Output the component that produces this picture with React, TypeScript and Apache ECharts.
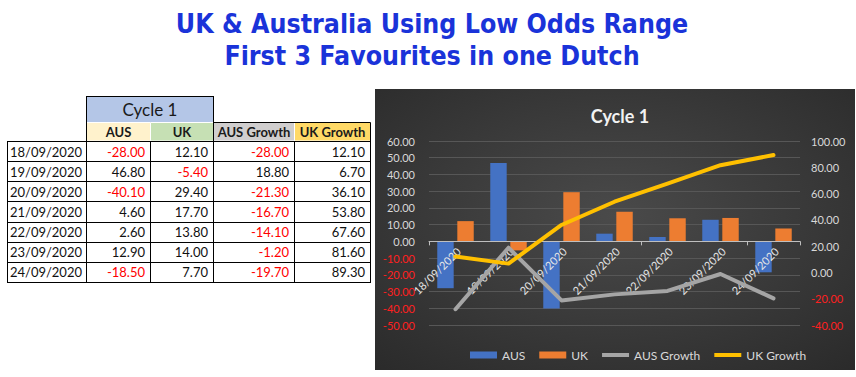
import React, { useEffect, useRef } from "react";
import * as echarts from "echarts";

const dates = ["18/09/2020", "19/09/2020", "20/09/2020", "21/09/2020", "22/09/2020", "23/09/2020", "24/09/2020"];
const ausValues = [-28.0, 46.8, -40.1, 4.6, 2.6, 12.9, -18.5];
const ukValues = [12.1, -5.4, 29.4, 17.7, 13.8, 14.0, 7.7];
const ausGrowth = [-28.0, 18.8, -21.3, -16.7, -14.1, -1.2, -19.7];
const ukGrowth = [12.1, 6.7, 36.1, 53.8, 67.6, 81.6, 89.3];
const headers = ["AUS", "UK", "AUS Growth", "UK Growth"];
const headerFills = ["#fff2cc", "#c6e0b4", "#d0cece", "#ffd966"];
const titleLines = ["UK & Australia Using Low Odds Range", "First 3 Favourites in one Dutch"];
const tableTitle = "Cycle 1";
const chartTitle = "Cycle 1";

const FONT = "Lato, 'Open Sans', sans-serif";
const LINE_ICON = "path://M0 0H27V4H0Z";

function buildTable(): any[] {
  const els: any[] = [];
  const cols = [7, 86, 150, 213, 294, 370];
  const rowTop = 141;
  const rowH = 20.14;
  const nRows = dates.length;
  const bottom = rowTop + rowH * nRows;
  const black = "#000";
  els.push({
    type: "rect",
    shape: { x: 86.5, y: 96.5, width: 127, height: 26 },
    style: { fill: "#b4c6e7", stroke: black, lineWidth: 1 },
  });
  els.push({
    type: "text",
    style: {
      text: tableTitle, x: 150, y: 109.5, fill: "#1a1a1a",
      font: `17px ${FONT}`, align: "center", verticalAlign: "middle",
      textAlign: "center", textVerticalAlign: "middle",
    },
  });
  headers.forEach((h, i) => {
    const x0 = cols[i + 1];
    const x1 = cols[i + 2];
    els.push({
      type: "rect",
      shape: { x: x0 + 0.5, y: 122.5, width: x1 - x0, height: 18.5 },
      style: { fill: headerFills[i], stroke: "#ffffff", lineWidth: 1 },
    });
    els.push({
      type: "text",
      style: {
        text: h, x: (x0 + x1) / 2 + 0.5, y: 132, fill: "#1a1a1a",
        font: `bold 13px ${FONT}`, align: "center", verticalAlign: "middle",
        textAlign: "center", textVerticalAlign: "middle",
      },
    });
  });
  const line = (x1: number, y1: number, x2: number, y2: number) =>
    els.push({ type: "line", shape: { x1, y1, x2, y2 }, style: { stroke: black, lineWidth: 1 } });
  line(213.5, 122.5, 370.5, 122.5);
  line(370.5, 122.5, 370.5, rowTop);
  line(86.5, 96, 86.5, rowTop);
  line(213.5, 96, 213.5, rowTop);
  for (let r = 0; r <= nRows; r++) {
    const y = Math.round(rowTop + r * rowH) + 0.5;
    line(7, y, 371, y);
  }
  cols.forEach((c) => line(c + 0.5, rowTop, c + 0.5, Math.round(bottom) + 1));
  const cellsOf = (r: number) => [ausValues[r], ukValues[r], ausGrowth[r], ukGrowth[r]];
  dates.forEach((d, r) => {
    const yc = rowTop + r * rowH + rowH / 2 + 0.5;
    els.push({
      type: "text",
      style: {
        text: d, x: cols[1] - 4, y: yc, fill: "#111",
        font: `13px ${FONT}`, align: "right", verticalAlign: "middle",
        textAlign: "right", textVerticalAlign: "middle",
      },
    });
    cellsOf(r).forEach((v, ci) => {
      els.push({
        type: "text",
        style: {
          text: v.toFixed(2), x: cols[ci + 2] - 5, y: yc, fill: v < 0 ? "#ff0000" : "#111",
          font: `13px ${FONT}`, align: "right", verticalAlign: "middle",
          textAlign: "right", textVerticalAlign: "middle",
        },
      });
    });
  });
  return els;
}

function buildOption(): any {
  const labelColor = (v: any) => (Number(v) < 0 ? "#ff2020" : "#d9d9d9");
  const graphics: any[] = [
    {
      type: "rect",
      z: -10,
      shape: { x: 375, y: 89, width: 480, height: 281 },
      style: {
        fill: {
          type: "radial", x: 0.5, y: 0.45, r: 0.75,
          colorStops: [
            { offset: 0, color: "#4a4a4a" },
            { offset: 1, color: "#2a2a2a" },
          ],
        },
      },
    },
    ...titleLines.map((t, i) => ({
      type: "text",
      style: {
        text: t, x: 432, y: 23 + i * 32, fill: "#1a33d9",
        font: `bold 26.5px 'DejaVu Sans Condensed', 'DejaVu Sans', sans-serif`,
        align: "center", verticalAlign: "middle",
        textAlign: "center", textVerticalAlign: "middle",
      },
    })),
    ...buildTable(),
  ];
  return {
    animation: false,
    backgroundColor: "#ffffff",
    title: {
      text: chartTitle,
      left: 615,
      top: 102,
      textAlign: "center",
      textStyle: { color: "#f2f2f2", fontSize: 18, fontWeight: "bold", fontFamily: FONT },
    },
    legend: {
      left: 465,
      top: 344,
      itemWidth: 27,
      itemHeight: 7,
      itemGap: 14,
      textStyle: { color: "#d9d9d9", fontSize: 12, fontFamily: FONT },
      data: [
        { name: "AUS", icon: "rect" },
        { name: "UK", icon: "rect" },
        { name: "AUS Growth", icon: LINE_ICON, itemStyle: { color: "#a5a5a5" } },
        { name: "UK Growth", icon: LINE_ICON, itemStyle: { color: "#ffc000" } },
      ],
    },
    grid: { left: 429, right: 56, top: 141, bottom: 52 },
    xAxis: {
      type: "category",
      data: dates,
      z: 3,
      axisLine: { onZero: true, onZeroAxisIndex: 0, lineStyle: { color: "#bfbfbf", width: 1 } },
      axisTick: { show: true, length: 4, lineStyle: { color: "#bfbfbf" } },
      axisLabel: { show: false },
      splitLine: { show: false },
    },
    yAxis: [
      {
        type: "value",
        min: -50,
        max: 60,
        interval: 10,
        axisLine: { show: false },
        axisTick: { show: false },
        axisLabel: {
          color: labelColor,
          fontSize: 11,
          fontFamily: FONT,
          margin: 14,
          formatter: (v: number) => v.toFixed(2),
        },
        splitLine: { lineStyle: { color: "#575757", width: 1 } },
      },
      {
        type: "value",
        min: -40,
        max: 100,
        interval: 20,
        position: "right",
        axisLine: { show: false },
        axisTick: { show: false },
        axisLabel: {
          color: labelColor,
          fontSize: 11,
          fontFamily: FONT,
          margin: 11,
          formatter: (v: number) => v.toFixed(2),
        },
        splitLine: { show: false },
      },
    ],
    series: [
      {
        name: "AUS",
        type: "bar",
        data: ausValues,
        z: 1,
        barWidth: "31%",
        barGap: "22%",
        itemStyle: { color: "#4472c4" },
      },
      {
        name: "UK",
        type: "bar",
        data: ukValues,
        z: 1,
        barWidth: "31%",
        barGap: "22%",
        itemStyle: { color: "#ed7d31" },
      },
      {
        name: "dateLabels",
        type: "scatter",
        yAxisIndex: 0,
        data: dates.map(() => 0),
        z: 3,
        symbol: "circle",
        symbolSize: 2,
        silent: true,
        itemStyle: { color: "rgba(0,0,0,0)" },
        labelLayout: { hideOverlap: false },
        label: {
          show: true,
          formatter: (p: any) => dates[p.dataIndex],
          position: [4, 9],
          align: "right",
          verticalAlign: "middle",
          rotate: 45,
          color: "#e6e6e6",
          opacity: 1,
          fontSize: 11,
          fontFamily: FONT,
        },
      },
      {
        name: "AUS Growth",
        type: "line",
        yAxisIndex: 1,
        data: ausGrowth,
        z: 5,
        symbol: "none",
        lineStyle: { color: "#a5a5a5", width: 4, cap: "round", join: "round" },
        itemStyle: { color: "#a5a5a5" },
      },
      {
        name: "UK Growth",
        type: "line",
        yAxisIndex: 1,
        data: ukGrowth,
        z: 5,
        symbol: "none",
        lineStyle: { color: "#ffc000", width: 4, cap: "round", join: "round" },
        itemStyle: { color: "#ffc000" },
      },
    ],
    graphic: { elements: graphics },
  };
}

export default function App() {
  const ref = useRef<HTMLDivElement>(null);
  useEffect(() => {
    if (!ref.current) return;
    const chart = echarts.init(ref.current, null, { renderer: "svg" });
    chart.setOption(buildOption());
    return () => chart.dispose();
  }, []);
  return (
    <div
      ref={ref}
      style={{ position: "absolute", left: 0, top: 0, width: 856, height: 377 }}
    />
  );
}
